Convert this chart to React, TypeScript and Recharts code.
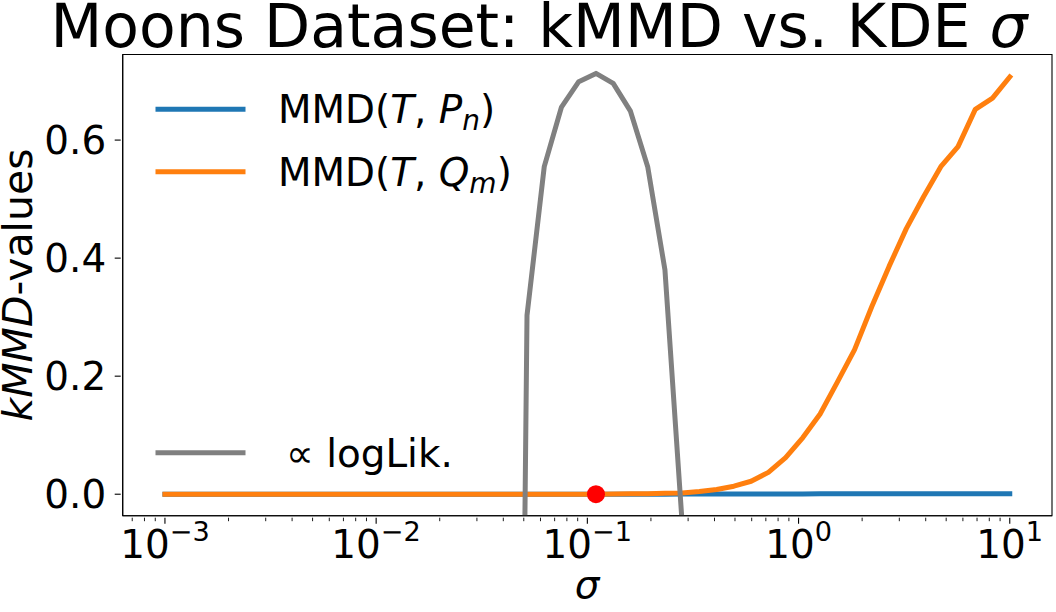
import { ComposedChart, Line, Scatter, XAxis, YAxis, ReferenceArea } from 'recharts';

// sigma grid (logspace 1e-3 .. 1e1, 50 points)
const SIGMA = [
  0.001, 0.0012068, 0.0014563, 0.0017575, 0.002121, 0.0025595, 0.0030888, 0.0037276, 0.0044984, 0.0054287,
  0.0065513, 0.007906, 0.009541, 0.011514, 0.013895, 0.016768, 0.020236, 0.024421, 0.029471, 0.035565,
  0.042919, 0.051795, 0.062506, 0.075431, 0.09103, 0.10985, 0.13257, 0.15999, 0.19307, 0.233,
  0.28118, 0.33932, 0.40949, 0.49417, 0.59636, 0.71969, 0.86851, 1.0481, 1.2649, 1.5264,
  1.8421, 2.223, 2.6827, 3.2375, 3.9069, 4.7149, 5.6899, 6.8665, 8.2864, 10,
];

const MMD_P = [
  0, 0, 0, 0, 0, 0, 0, 0, 0, 0,
  0, 0, 0, 0, 0, 0, 0, 0, 0, 0,
  0, 0, 0, 0, 0, 0, 0, 0, 0, 0,
  0.0005, 0.0005, 0.0005, 0.0005, 0.0005, 0.0005, 0.0005, 0.0005, 0.0006, 0.0006,
  0.0006, 0.0007, 0.0007, 0.0008, 0.0008, 0.0009, 0.0009, 0.001, 0.001, 0.001,
];

const MMD_Q = [
  0, 0, 0, 0, 0, 0, 0, 0, 0, 0,
  0, 0, 0, 0, 0, 0, 0, 0, 0, 0,
  0, 0, 0, 0, 0, 0, 0.0003, 0.0006, 0.001, 0.0015,
  0.002, 0.0045, 0.008, 0.0136, 0.022, 0.037, 0.062, 0.096, 0.136, 0.19,
  0.245, 0.318, 0.386, 0.45, 0.504, 0.555, 0.589, 0.652, 0.671, 0.707,
];

// proportional to log-likelihood; far below the axis outside the visible hump
const LOGLIK = [
  null, null, null, null, null, null, null, null, null, null,
  null, null, null, null, null, null, null, null, null, null,
  -2.5, 0.303, 0.555, 0.656, 0.699, 0.713, 0.696, 0.649, 0.555, 0.38,
  -0.05, -3, null, null, null, null, null, null, null, null,
  null, null, null, null, null, null, null, null, null, null,
];

const BEST_SIGMA = [0.10985];
const BEST_VALUE = [0];

const X_MAJOR = [0.001, 0.01, 0.1, 1, 10];
const X_MINOR = [
  0.0007, 0.0008, 0.0009,
  0.002, 0.003, 0.004, 0.005, 0.006, 0.007, 0.008, 0.009,
  0.02, 0.03, 0.04, 0.05, 0.06, 0.07, 0.08, 0.09,
  0.2, 0.3, 0.4, 0.5, 0.6, 0.7, 0.8, 0.9,
  2, 3, 4, 5, 6, 7, 8, 9,
];
const Y_TICKS = [0, 0.2, 0.4, 0.6];

const X_DOMAIN = [Math.pow(10, -3.2), Math.pow(10, 1.2)];
const Y_DOMAIN = [-0.0364, 0.745];

const rows = SIGMA.map((s, i) => ({ sigma: s, p: MMD_P[i], q: MMD_Q[i], ll: LOGLIK[i] }));
const best = BEST_SIGMA.map((s, i) => ({ sigma: s, v: BEST_VALUE[i] }));

const FONT = '"DejaVu Sans", sans-serif';
const FS = 38.9;
const BLUE = '#1f77b4';
const ORANGE = '#ff7f0e';
const GREY = '#808080';

function XTick(props: any) {
  const { x, y, payload } = props;
  const v = payload.value;
  if (!X_MAJOR.includes(v)) {
    return <line x1={x} x2={x} y1={y} y2={y + 3.5} stroke="#000" strokeWidth={0.9} />;
  }
  const exp = Math.round(Math.log10(v));
  const sup = exp < 0 ? `\u2212${-exp}` : `${exp}`;
  return (
    <g>
      <line x1={x} x2={x} y1={y} y2={y + 6} stroke="#000" strokeWidth={1.1} />
      <text x={x} y={y + 40} textAnchor="middle" fontSize={FS} fontFamily={FONT} fill="#000">
        <tspan>10</tspan>
        <tspan dy={-16.5} fontSize={27.2}>{sup}</tspan>
      </text>
    </g>
  );
}

function YTick(props: any) {
  const { x, y, payload } = props;
  return (
    <g>
      <line x1={x - 6} x2={x} y1={y} y2={y} stroke="#000" strokeWidth={1.1} />
      <text x={x - 14.5} y={y + 14} textAnchor="end" fontSize={FS} fontFamily={FONT} fill="#000">
        {payload.value.toFixed(1)}
      </text>
    </g>
  );
}

function RedDot(props: any) {
  return <circle cx={props.cx} cy={props.cy} r={9} fill="#ff0000" />;
}

export default function App() {
  return (
    <div style={{ position: 'absolute', left: 0, top: 0, width: 1056, height: 612, background: '#fff' }}>
      <ComposedChart width={1056} height={612} data={rows} margin={{ top: 54.5, right: 4, bottom: 0, left: 0 }}>
        <XAxis
          dataKey="sigma"
          type="number"
          scale="log"
          domain={X_DOMAIN}
          allowDataOverflow
          ticks={[...X_MAJOR, ...X_MINOR]}
          interval={0}
          tickSize={0}
          tickLine={false}
          tick={<XTick />}
          height={96.3}
          axisLine={{ stroke: '#000', strokeWidth: 1.1 }}
        />
        <YAxis
          type="number"
          domain={Y_DOMAIN}
          allowDataOverflow
          ticks={Y_TICKS}
          interval={0}
          tickSize={0}
          tickLine={false}
          tick={<YTick />}
          width={122.7}
          axisLine={{ stroke: '#000', strokeWidth: 1.1 }}
        />
        <Line dataKey="p" stroke={BLUE} strokeWidth={5} strokeLinecap="square" strokeLinejoin="round" dot={false} isAnimationActive={false} />
        <Line dataKey="q" stroke={ORANGE} strokeWidth={5} strokeLinecap="square" strokeLinejoin="round" dot={false} isAnimationActive={false} />
        <Line dataKey="ll" stroke={GREY} strokeWidth={5} strokeLinecap="square" strokeLinejoin="round" dot={false} isAnimationActive={false} />
        <Scatter data={best} dataKey="v" shape={<RedDot />} isAnimationActive={false} />
        {/* axes frame (top and right spines) */}
        <ReferenceArea
          x1={X_DOMAIN[0]}
          x2={X_DOMAIN[1]}
          y1={Y_DOMAIN[0]}
          y2={Y_DOMAIN[1]}
          fill="none"
          fillOpacity={0}
          stroke="#000"
          strokeWidth={1.1}
          ifOverflow="visible"
        />
      </ComposedChart>

      <svg width={1056} height={612} style={{ position: 'absolute', left: 0, top: 0, pointerEvents: 'none' }} fontFamily={FONT}>
        <text x={539} y={47} textAnchor="middle" fontSize={60} fill="#000">
          Moons Dataset: kMMD vs. KDE <tspan fontStyle="italic">σ</tspan>
        </text>

        <text transform="translate(32 285) rotate(-90)" textAnchor="middle" fontSize={41} fill="#000">
          <tspan fontStyle="italic">kMMD</tspan>-values
        </text>
        <text x={587} y={598} textAnchor="middle" fontSize={FS} fontStyle="italic" fill="#000">σ</text>

        <line x1={158} x2={243} y1={109.3} y2={109.3} stroke={BLUE} strokeWidth={5} strokeLinecap="square" />
        <text x={278} y={123.3} fontSize={FS} fill="#000">
          MMD(<tspan fontStyle="italic">T</tspan>, <tspan fontStyle="italic">P</tspan>
          <tspan fontStyle="italic" fontSize={28} dy={7}>n</tspan>
          <tspan dy={-7}>)</tspan>
        </text>
        <line x1={158} x2={243} y1={171.7} y2={171.7} stroke={ORANGE} strokeWidth={5} strokeLinecap="square" />
        <text x={278} y={185.7} fontSize={FS} fill="#000">
          MMD(<tspan fontStyle="italic">T</tspan>, <tspan fontStyle="italic">Q</tspan>
          <tspan fontStyle="italic" fontSize={28} dy={7}>m</tspan>
          <tspan dy={-7}>)</tspan>
        </text>
        <line x1={158} x2={243} y1={452.7} y2={452.7} stroke={GREY} strokeWidth={5} strokeLinecap="square" />
        <text x={286} y={466.7} fontSize={FS} fill="#000">∝ logLik.</text>
      </svg>
    </div>
  );
}
